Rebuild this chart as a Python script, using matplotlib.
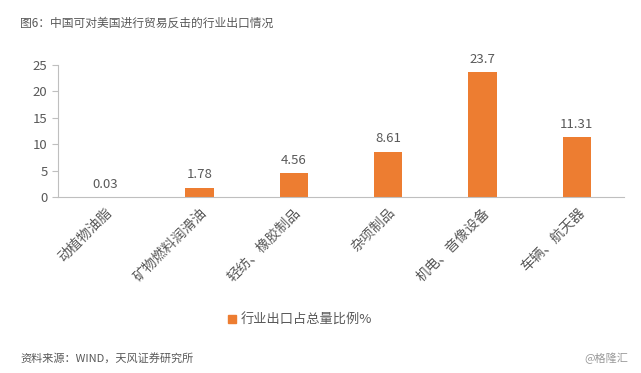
import matplotlib
matplotlib.use("Agg")
import matplotlib.pyplot as plt
import matplotlib.transforms as mtransforms
from matplotlib.patches import Patch

plt.rcParams['font.family'] = ['Noto Sans CJK SC', 'DejaVu Sans']

categories = ["动植物油脂", "矿物燃料润滑油", "轻纺、橡胶制品", "杂项制品", "机电、音像设备", "车辆、航天器"]
values = [0.03, 1.78, 4.56, 8.61, 23.7, 11.31]
value_labels = ["0.03", "1.78", "4.56", "8.61", "23.7", "11.31"]
yticks = [0, 5, 10, 15, 20, 25]

ORANGE = "#ED7D31"
GRAY = "#595959"

fig = plt.figure(figsize=(6.41, 3.73), dpi=100)
ax = fig.add_axes([58 / 641, 1 - 197 / 373, (624 - 58) / 641, (197 - 65) / 373])

x = range(len(categories))
ax.bar(x, values, width=0.3, color=ORANGE)
for xi, v, lab in zip(x, values, value_labels):
    ax.text(xi, v + 1.2, lab, ha="center", va="bottom", fontsize=9.5, color=GRAY)

ax.set_xlim(-0.5, len(categories) - 0.5)
ax.set_ylim(0, 25)
ax.set_yticks(yticks)
ax.set_xticks(list(x))
ax.set_xticklabels(categories, rotation=45, ha="right", rotation_mode="anchor",
                   fontsize=10, color=GRAY)
# nudge category labels a little left, like the original
shift = mtransforms.ScaledTranslation(-10 / 100, 0, fig.dpi_scale_trans)
for lbl in ax.get_xticklabels():
    lbl.set_transform(lbl.get_transform() + shift)
ax.tick_params(axis="x", length=0, pad=6)
ax.tick_params(axis="y", colors="#bfbfbf", labelcolor=GRAY, labelsize=9.5, length=4)
for s in ["top", "right"]:
    ax.spines[s].set_visible(False)
ax.spines["left"].set_color("#bfbfbf")
ax.spines["bottom"].set_color("#bfbfbf")

fig.legend(handles=[Patch(color=ORANGE)], labels=["行业出口占总量比例%"],
           loc="center", bbox_to_anchor=(300 / 641, 1 - 320 / 373),
           frameon=False, fontsize=9.5, handlelength=0.6, handleheight=0.6,
           handletextpad=0.4, labelcolor=GRAY)

fig.text(20 / 641, 1 - 23 / 373, "图6：中国可对美国进行贸易反击的行业出口情况",
         fontsize=8.5, color=GRAY, va="center")
fig.text(20 / 641, 1 - 358 / 373, "资料来源：WIND，天风证券研究所",
         fontsize=8, color=GRAY, va="center")
fig.text(628 / 641, 1 - 358 / 373, "@格隆汇",
         fontsize=8, color="#999999", va="center", ha="right")

fig.savefig("out.png", dpi=100)
